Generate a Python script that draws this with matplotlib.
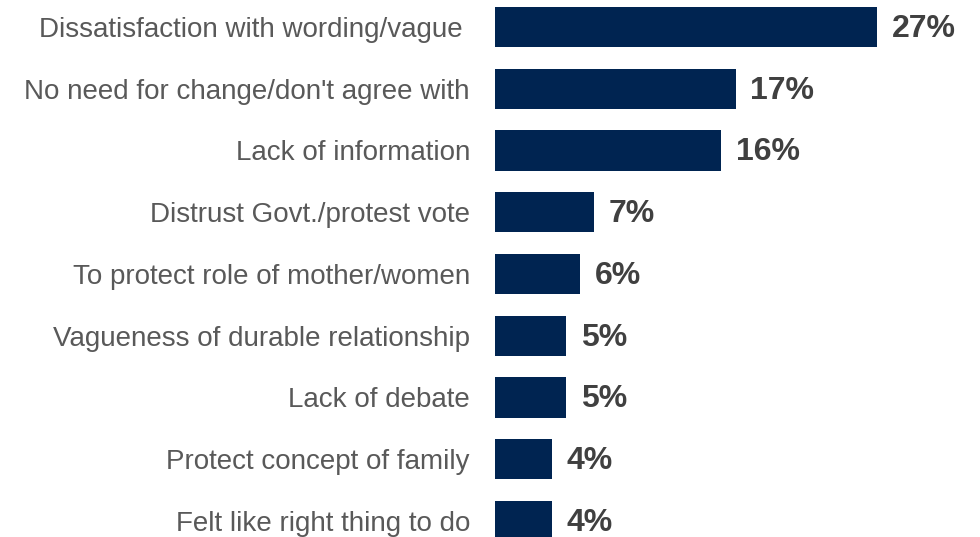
import matplotlib
matplotlib.use("Agg")
import matplotlib.pyplot as plt

categories = [
    "Dissatisfaction with wording/vague ",
    "No need for change/don't agree with",
    "Lack of information",
    "Distrust Govt./protest vote",
    "To protect role of mother/women",
    "Vagueness of durable relationship",
    "Lack of debate",
    "Protect concept of family",
    "Felt like right thing to do",
]
values = [27, 17, 16, 7, 6, 5, 5, 4, 4]
value_labels = ["27%", "17%", "16%", "7%", "6%", "5%", "5%", "4%", "4%"]

W, H = 980, 537
fig = plt.figure(figsize=(W / 100, H / 100), dpi=100)
ax = fig.add_axes([495 / W, 0, 1 - 495 / W, 1])

ypos = list(range(len(categories)))
ax.barh(ypos, values, height=0.65, color="#002451")
ax.set_xlim(0, (W - 495) / 14.15)
ax.set_ylim((537 - 27) / 61.75, -27 / 61.75)

for y, v, lab in zip(ypos, values, value_labels):
    ax.text(v + 1.05, y + 0.03, lab, va="center", ha="left", fontsize=23,
            fontweight="bold", color="#404040", family="Liberation Sans")

ax.set_yticks(ypos)
ax.set_yticklabels(categories, fontsize=20, color="#595959", family="Liberation Sans")
ax.tick_params(axis="y", length=0, pad=18)
ax.set_xticks([])
for s in ax.spines.values():
    s.set_visible(False)

fig.savefig("out.png", dpi=100)
